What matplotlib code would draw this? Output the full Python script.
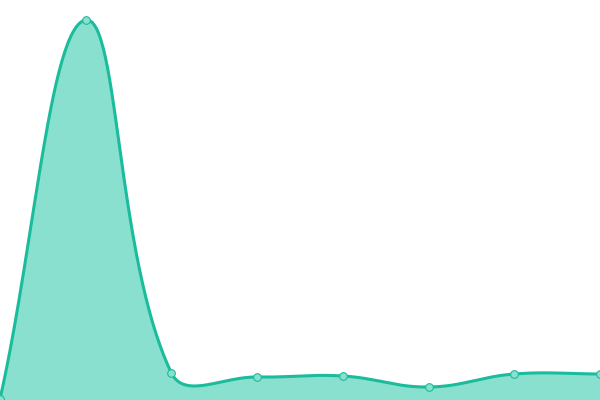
import numpy as np
import matplotlib
matplotlib.use('Agg')
from matplotlib import pyplot as plt

# values (pixel-height units, chart area is 400 tall)
labels = ['1', '2', '3', '4', '5', '6', '7', '8']
values = [1, 380, 27, 23, 24, 13, 26, 26]

W, H = 600, 400
tension = 0.4


def spline_ctrl(pts, t):
    # same idea as Chart.js splineCurve: control points around each point
    n = len(pts)
    out = []
    for i in range(n):
        prev = pts[i - 1] if i > 0 else pts[i]
        cur = pts[i]
        nxt = pts[i + 1] if i < n - 1 else pts[i]
        d01 = np.hypot(*(cur - prev))
        d12 = np.hypot(*(nxt - cur))
        tot = d01 + d12
        s01 = d01 / tot if tot else 0
        s12 = d12 / tot if tot else 0
        fa = t * s01
        fb = t * s12
        cp_prev = cur - fa * (nxt - prev)
        cp_next = cur + fb * (nxt - prev)
        cp_prev = np.clip(cp_prev, [0, 0], [W, H])
        cp_next = np.clip(cp_next, [0, 0], [W, H])
        out.append((cp_prev, cp_next))
    return out


xs = np.linspace(0, W, len(values))
pts = np.column_stack([xs, values]).astype(float)
cps = spline_ctrl(pts, tension)

curve = []
tt = np.linspace(0, 1, 60)[:, None]
for i in range(len(pts) - 1):
    p0 = pts[i]
    p1 = cps[i][1]
    p2 = cps[i + 1][0]
    p3 = pts[i + 1]
    seg = ((1 - tt) ** 3) * p0 + 3 * ((1 - tt) ** 2) * tt * p1 \
        + 3 * (1 - tt) * tt ** 2 * p2 + tt ** 3 * p3
    curve.append(seg)
curve = np.vstack(curve)

fig = plt.figure(figsize=(6, 4), dpi=100)
ax = fig.add_axes([0, 0, 1, 1])
ax.set_xlim(0, W)
ax.set_ylim(0, H)
ax.axis('off')

ax.fill_between(curve[:, 0], 0, curve[:, 1], color='#8ae0cf', lw=0)
ax.plot(curve[:, 0], curve[:, 1], color='#1abc9c', lw=2.2,
        solid_capstyle='round')
ax.plot(xs, values, 'o', ms=5.5, mfc='#8ae0cf', mec='#1abc9c', mew=0.8,
        clip_on=False)

fig.savefig('out.png', dpi=100)
